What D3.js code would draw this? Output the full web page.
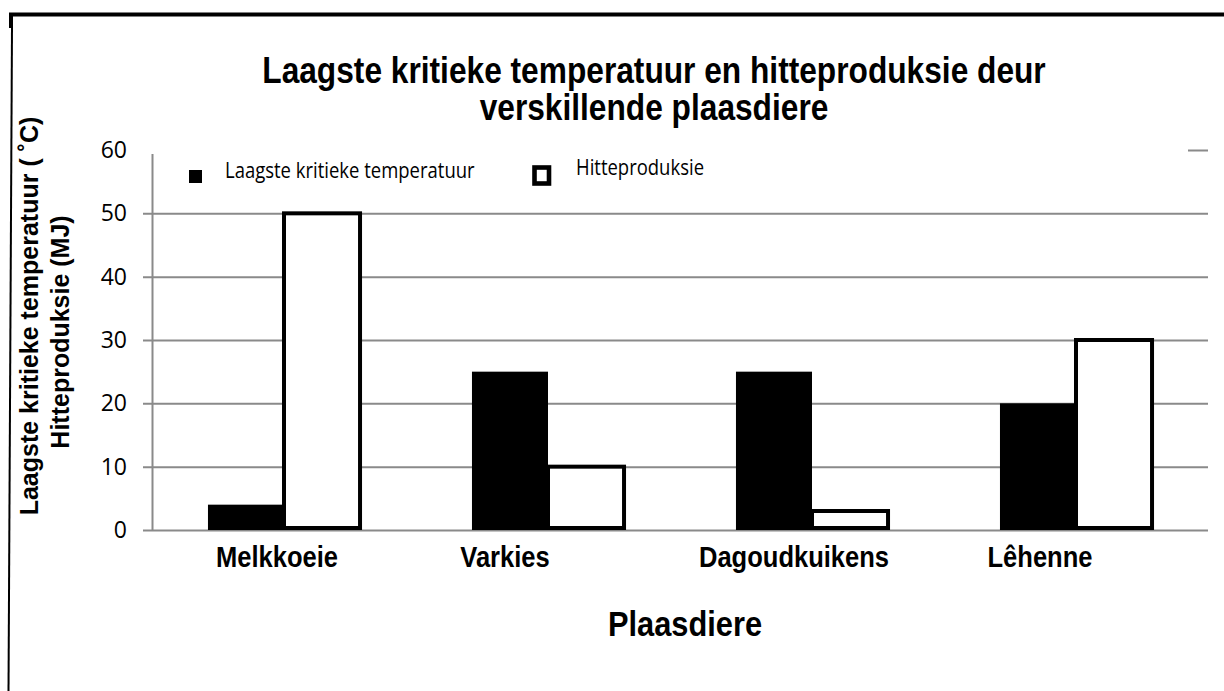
<!DOCTYPE html>
<html>
<head>
<meta charset="utf-8">
<script src="https://cdn.jsdelivr.net/npm/d3@7"></script>
<style>
    body { margin: 0; background: #fff; }
    svg { display: block; }
</style>
</head>
<body>
<script>
// data
const animals = ['Melkkoeie', 'Varkies', 'Dagoudkuikens', 'Lêhenne'];
const lowestCritTemp = [4, 25, 25, 20];
const heatProduction = [50, 10, 3, 30];
const seriesNames = ['Laagste kritieke temperatuur', 'Hitteproduksie'];
const yTicks = [0, 10, 20, 30, 40, 50, 60];

const titleLines = ['Laagste kritieke temperatuur en hitteproduksie deur', 'verskillende plaasdiere'];
const yLabelLines = ['Laagste kritieke temperatuur ( \u02DAC)', 'Hitteproduksie (MJ)'];
const xLabel = 'Plaasdiere';

// layout
const w = 1224;
const h = 691;
const margin = { top: 150, right: 16, bottom: 161, left: 152 };
const innerWidth = w - margin.left - margin.right;
const innerHeight = h - margin.top - margin.bottom;
const squeeze = 0.88;   // the source text is a bit narrow
const labelNudge = [-7, -43, -18, -36];  // category labels sit off-centre in the source

const arial = '"Liberation Sans", Arial, sans-serif';
const calibri = '"Open Sans", "Noto Sans", sans-serif';

// narrow a text by squeezing its glyphs to a shorter length
function narrow(sel) {
    sel.each(function () {
        const len = this.getComputedTextLength();
        d3.select(this)
            .attr('textLength', len * squeeze)
            .attr('lengthAdjust', 'spacingAndGlyphs');
    });
}

const rows = animals.map((a, i) => ({
    animal: a,
    values: [lowestCritTemp[i], heatProduction[i]]
}));

const svg = d3.select('body')
    .append('svg')
    .attr('width', w)
    .attr('height', h);

// frame of the scanned page
svg.append('line')
    .attr('x1', 9).attr('y1', 14.5).attr('x2', w).attr('y2', 14.5)
    .attr('stroke', '#000').attr('stroke-width', 4);
svg.append('rect')
    .attr('x', 9).attr('y', 13).attr('width', 4).attr('height', 15)
    .attr('fill', '#000');
svg.append('line')
    .attr('x1', 12).attr('y1', 27).attr('x2', 8.5).attr('y2', h)
    .attr('stroke', '#000').attr('stroke-width', 2);

// scales
const xScale = d3.scaleBand()
    .domain(animals)
    .range([0, innerWidth])
    .paddingInner(0.424)
    .paddingOuter(0.212);

const xInner = d3.scaleBand()
    .domain([0, 1])
    .range([0, xScale.bandwidth()]);

const yScale = d3.scaleLinear()
    .domain([0, 60])
    .range([innerHeight, 0]);

const g = svg.append('g')
    .attr('transform', `translate(${margin.left},${margin.top})`);

// y axis with gridlines
const yAxis = d3.axisLeft(yScale)
    .tickValues(yTicks)
    .tickSizeInner(-innerWidth)
    .tickSizeOuter(0)
    .tickPadding(25);

const yAxisG = g.append('g').call(yAxis);
yAxisG.select('.domain').attr('stroke', '#8a8a8a').attr('stroke-width', 2);
yAxisG.selectAll('.tick line')
    .attr('x1', -9)
    .attr('stroke', '#8a8a8a')
    .attr('stroke-width', 2);
yAxisG.selectAll('.tick text')
    .attr('font-family', calibri)
    .attr('font-size', 23)
    .attr('fill', '#000');

// bars
const groups = g.selectAll('.group')
    .data(rows)
    .enter()
    .append('g')
    .attr('class', 'group')
    .attr('transform', d => `translate(${xScale(d.animal)},0)`);

groups.append('rect')
    .attr('x', xInner(0))
    .attr('y', d => yScale(d.values[0]))
    .attr('width', xInner.bandwidth())
    .attr('height', d => innerHeight - yScale(d.values[0]))
    .attr('fill', '#000');

groups.append('rect')
    .attr('x', xInner(1))
    .attr('y', d => yScale(d.values[1]))
    .attr('width', xInner.bandwidth())
    .attr('height', d => innerHeight - yScale(d.values[1]) - 2)
    .attr('fill', '#fff')
    .attr('stroke', '#000')
    .attr('stroke-width', 4);

// x axis labels only
const xAxis = d3.axisBottom(xScale).tickSize(0);
const xAxisG = g.append('g')
    .attr('transform', `translate(0,${innerHeight})`)
    .call(xAxis);
xAxisG.select('.domain').remove();
xAxisG.selectAll('.tick text')
    .attr('x', (d, i) => labelNudge[i])
    .attr('y', 37)
    .attr('dy', 0)
    .attr('font-family', arial)
    .attr('font-weight', 'bold')
    .attr('font-size', 29)
    .attr('fill', '#000')
    .call(narrow);

// legend (white box over the top gridline)
svg.append('rect')
    .attr('x', 140).attr('y', 138)
    .attr('width', 1048).attr('height', 16)
    .attr('fill', '#fff');

svg.append('rect')
    .attr('x', 189).attr('y', 170)
    .attr('width', 13).attr('height', 13)
    .attr('fill', '#000');
svg.append('text')
    .attr('x', 225).attr('y', 178)
    .attr('font-family', calibri)
    .attr('font-size', 21)
    .text(seriesNames[0])
    .call(narrow);

svg.append('rect')
    .attr('x', 534.5).attr('y', 167.5)
    .attr('width', 14.5).attr('height', 16)
    .attr('fill', '#fff')
    .attr('stroke', '#000')
    .attr('stroke-width', 4.6);
svg.append('text')
    .attr('x', 576).attr('y', 175)
    .attr('font-family', calibri)
    .attr('font-size', 21)
    .text(seriesNames[1])
    .call(narrow);

// title
titleLines.forEach((t, i) => {
    svg.append('text')
        .attr('x', 654)
        .attr('y', 83 + i * 37)
        .attr('text-anchor', 'middle')
        .attr('font-family', arial)
        .attr('font-weight', 'bold')
        .attr('font-size', 36)
        .text(t)
        .call(narrow);
});

// y axis title, two lines
const yLabelPos = [[38, 316], [69, 332]];
yLabelLines.forEach((t, i) => {
    svg.append('text')
        .attr('transform', `translate(${yLabelPos[i][0]},${yLabelPos[i][1]}) rotate(-90)`)
        .attr('text-anchor', 'middle')
        .attr('font-family', arial)
        .attr('font-weight', 'bold')
        .attr('font-size', 25)
        .text(t);
});

// x axis title
svg.append('text')
    .attr('x', 685)
    .attr('y', 636)
    .attr('text-anchor', 'middle')
    .attr('font-family', arial)
    .attr('font-weight', 'bold')
    .attr('font-size', 35)
    .text(xLabel)
    .call(narrow);
</script>
</body>
</html>
